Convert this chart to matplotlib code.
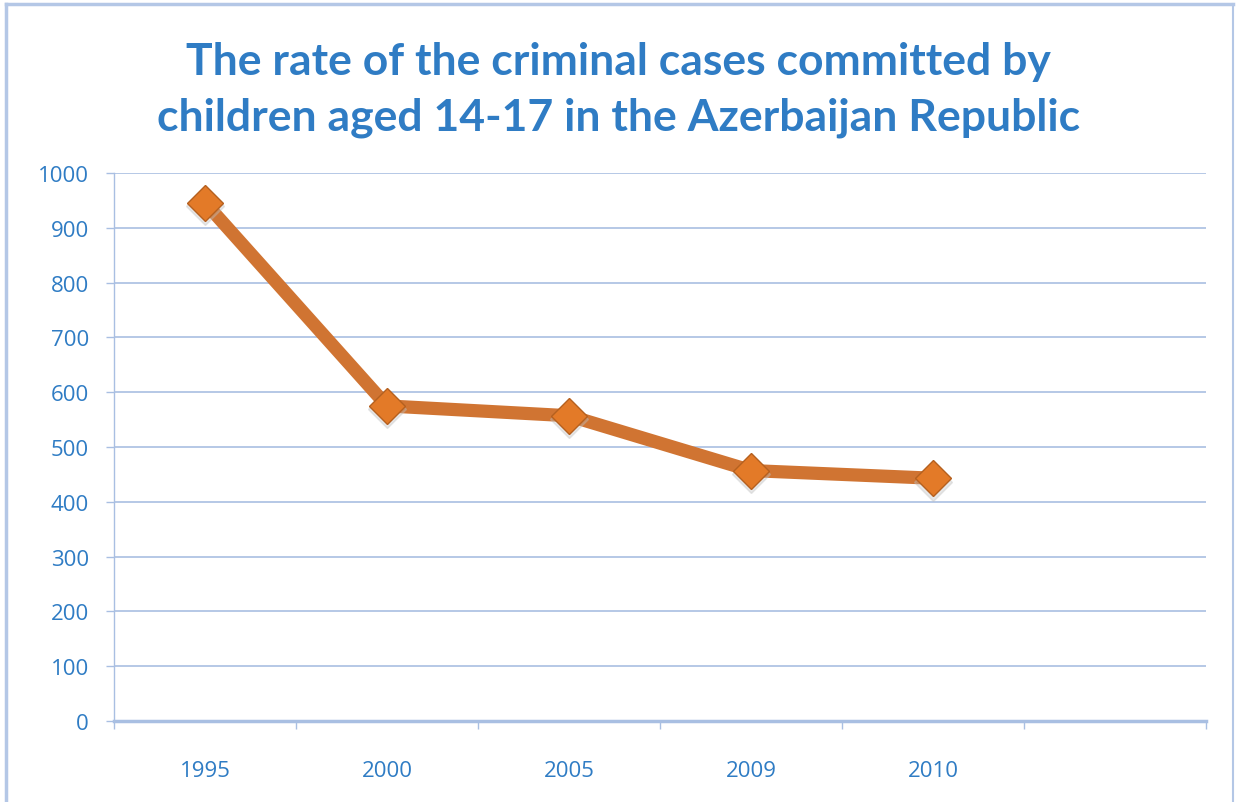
import matplotlib.pyplot as plt
from matplotlib.lines import Line2D

years = ['1995', '2000', '2005', '2009', '2010']
cases = [946, 575, 557, 457, 443]
y_ticks = [0, 100, 200, 300, 400, 500, 600, 700, 800, 900, 1000]

title = 'The rate of the criminal cases committed by\nchildren aged 14-17 in the Azerbaijan Republic'

text_blue = '#2f7cc4'
grid_blue = '#a9bfe2'
line_orange = '#d07432'

fig = plt.figure(figsize=(12.37, 8.03), dpi=100)
ax = fig.add_axes([114 / 1237, 81 / 803, 1092 / 1237, 548 / 803])

x = list(range(len(years)))

# line, soft shadow under markers, then markers
ax.plot(x, cases, color=line_orange, linewidth=9.5, solid_capstyle='butt', zorder=3)
ax.plot(x, [c - 6 for c in cases], linestyle='none', marker='D', markersize=19,
        color='#bdbdbd', alpha=0.35, zorder=4)
ax.plot(x, cases, linestyle='none', marker='D', markersize=18,
        markerfacecolor='#e37a28', markeredgecolor='#b5601f', markeredgewidth=1.0, zorder=5)

# 6 category slots, last one empty
ax.set_xlim(-0.5, 5.5)
ax.set_ylim(0, 1000)
ax.set_xticks([i - 0.5 for i in range(7)])
ax.set_xticklabels([])
ax.set_xticks(x, minor=True)
ax.set_xticklabels(years, minor=True)
ax.tick_params(axis='x', which='major', length=6, width=1, color=grid_blue, direction='out')
ax.tick_params(axis='x', which='minor', length=0, pad=28, labelsize=16, labelcolor=text_blue)

ax.set_yticks(y_ticks)
ax.tick_params(axis='y', length=6, width=1, color=grid_blue, pad=12, labelsize=16,
               labelcolor=text_blue)
ax.yaxis.grid(True, color=grid_blue, linewidth=1.2)
ax.set_axisbelow(True)

for side in ['top', 'right']:
    ax.spines[side].set_visible(False)
ax.spines['left'].set_color(grid_blue)
ax.spines['left'].set_linewidth(1)
ax.spines['bottom'].set_color(grid_blue)
ax.spines['bottom'].set_linewidth(2.5)

for lab in ax.get_xticklabels(minor=True) + ax.get_yticklabels():
    lab.set_fontfamily('Open Sans')

fig.text(0.5, 1 - 90 / 803, title, ha='center', va='center', fontsize=32,
         fontweight='bold', color=text_blue, family='Lato', linespacing=1.5)

# frame around the chart (no bottom edge)
W, H = 1237, 803
border = '#b4c7e6'
fig.add_artist(Line2D([6 / W, 6 / W], [0, 1 - 5 / H], color=border, linewidth=2.5))
fig.add_artist(Line2D([6 / W, 1233 / W], [1 - 5 / H, 1 - 5 / H], color=border, linewidth=2.5))
fig.add_artist(Line2D([1233 / W, 1233 / W], [0, 1 - 5 / H], color=border, linewidth=1.5))

fig.savefig('out.png', dpi=100)
